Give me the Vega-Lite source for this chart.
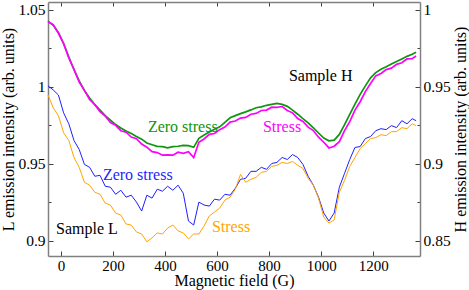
{
  "$schema": "https://vega.github.io/schema/vega-lite/v6.json",
  "width": 372,
  "height": 254,
  "autosize": {"type": "none"},
  "padding": {"left": 48, "top": 2, "right": 49, "bottom": 34},
  "background": "white",
  "config": {
    "view": {"stroke": null},
    "font": "Liberation Serif",
    "text": {"font": "Liberation Serif"},
    "axis": {
      "grid": false,
      "domainColor": "#808080",
      "domainWidth": 1.5,
      "tickColor": "#404040",
      "tickWidth": 1,
      "labelFont": "Liberation Serif",
      "labelFontSize": 15.5,
      "labelColor": "black",
      "titleFont": "Liberation Serif",
      "titleFontSize": 16,
      "titleFontWeight": "normal",
      "titleColor": "black"
    }
  },
  "datasets": {
    "L": [
      {"G": -50, "L_zero": 1.0005, "L_stress": 0.9946},
      {"G": -30, "L_zero": 0.9979, "L_stress": 0.9863},
      {"G": -10, "L_zero": 0.9946, "L_stress": 0.9811},
      {"G": 10, "L_zero": 0.9830, "L_stress": 0.9701},
      {"G": 30, "L_zero": 0.9759, "L_stress": 0.9650},
      {"G": 50, "L_zero": 0.9650, "L_stress": 0.9540},
      {"G": 70, "L_zero": 0.9592, "L_stress": 0.9476},
      {"G": 90, "L_zero": 0.9495, "L_stress": 0.9379},
      {"G": 110, "L_zero": 0.9476, "L_stress": 0.9360},
      {"G": 130, "L_zero": 0.9418, "L_stress": 0.9314},
      {"G": 150, "L_zero": 0.9424, "L_stress": 0.9301},
      {"G": 170, "L_zero": 0.9353, "L_stress": 0.9243},
      {"G": 190, "L_zero": 0.9347, "L_stress": 0.9231},
      {"G": 210, "L_zero": 0.9301, "L_stress": 0.9179},
      {"G": 230, "L_zero": 0.9327, "L_stress": 0.9166},
      {"G": 250, "L_zero": 0.9282, "L_stress": 0.9108},
      {"G": 270, "L_zero": 0.9295, "L_stress": 0.9101},
      {"G": 290, "L_zero": 0.9250, "L_stress": 0.9056},
      {"G": 310, "L_zero": 0.9192, "L_stress": 0.9043},
      {"G": 330, "L_zero": 0.9295, "L_stress": 0.8992},
      {"G": 350, "L_zero": 0.9276, "L_stress": 0.9018},
      {"G": 370, "L_zero": 0.9334, "L_stress": 0.9050},
      {"G": 390, "L_zero": 0.9321, "L_stress": 0.9043},
      {"G": 410, "L_zero": 0.9353, "L_stress": 0.9082},
      {"G": 430, "L_zero": 0.9327, "L_stress": 0.9101},
      {"G": 450, "L_zero": 0.9360, "L_stress": 0.9063},
      {"G": 470, "L_zero": 0.9308, "L_stress": 0.9050},
      {"G": 490, "L_zero": 0.9127, "L_stress": 0.9011},
      {"G": 510, "L_zero": 0.9101, "L_stress": 0.9043},
      {"G": 530, "L_zero": 0.9250, "L_stress": 0.9043},
      {"G": 550, "L_zero": 0.9231, "L_stress": 0.9095},
      {"G": 570, "L_zero": 0.9224, "L_stress": 0.9160},
      {"G": 590, "L_zero": 0.9269, "L_stress": 0.9185},
      {"G": 610, "L_zero": 0.9263, "L_stress": 0.9211},
      {"G": 630, "L_zero": 0.9301, "L_stress": 0.9263},
      {"G": 650, "L_zero": 0.9295, "L_stress": 0.9282},
      {"G": 670, "L_zero": 0.9340, "L_stress": 0.9334},
      {"G": 690, "L_zero": 0.9398, "L_stress": 0.9430},
      {"G": 710, "L_zero": 0.9405, "L_stress": 0.9379},
      {"G": 730, "L_zero": 0.9450, "L_stress": 0.9398},
      {"G": 750, "L_zero": 0.9450, "L_stress": 0.9411},
      {"G": 770, "L_zero": 0.9476, "L_stress": 0.9443},
      {"G": 790, "L_zero": 0.9463, "L_stress": 0.9450},
      {"G": 810, "L_zero": 0.9501, "L_stress": 0.9482},
      {"G": 830, "L_zero": 0.9508, "L_stress": 0.9489},
      {"G": 850, "L_zero": 0.9540, "L_stress": 0.9508},
      {"G": 870, "L_zero": 0.9527, "L_stress": 0.9501},
      {"G": 890, "L_zero": 0.9559, "L_stress": 0.9514},
      {"G": 910, "L_zero": 0.9540, "L_stress": 0.9489},
      {"G": 930, "L_zero": 0.9495, "L_stress": 0.9469},
      {"G": 950, "L_zero": 0.9418, "L_stress": 0.9405},
      {"G": 970, "L_zero": 0.9360, "L_stress": 0.9360},
      {"G": 990, "L_zero": 0.9282, "L_stress": 0.9276},
      {"G": 1010, "L_zero": 0.9179, "L_stress": 0.9153},
      {"G": 1030, "L_zero": 0.9127, "L_stress": 0.9114},
      {"G": 1050, "L_zero": 0.9179, "L_stress": 0.9134},
      {"G": 1070, "L_zero": 0.9347, "L_stress": 0.9314},
      {"G": 1090, "L_zero": 0.9437, "L_stress": 0.9392},
      {"G": 1110, "L_zero": 0.9527, "L_stress": 0.9482},
      {"G": 1130, "L_zero": 0.9605, "L_stress": 0.9540},
      {"G": 1150, "L_zero": 0.9611, "L_stress": 0.9598},
      {"G": 1170, "L_zero": 0.9663, "L_stress": 0.9630},
      {"G": 1190, "L_zero": 0.9676, "L_stress": 0.9663},
      {"G": 1210, "L_zero": 0.9714, "L_stress": 0.9669},
      {"G": 1230, "L_zero": 0.9727, "L_stress": 0.9688},
      {"G": 1250, "L_zero": 0.9721, "L_stress": 0.9682},
      {"G": 1270, "L_zero": 0.9747, "L_stress": 0.9708},
      {"G": 1290, "L_zero": 0.9734, "L_stress": 0.9708},
      {"G": 1310, "L_zero": 0.9779, "L_stress": 0.9734},
      {"G": 1330, "L_zero": 0.9759, "L_stress": 0.9727},
      {"G": 1350, "L_zero": 0.9792, "L_stress": 0.9759},
      {"G": 1365, "L_zero": 0.9779, "L_stress": 0.9747}
    ],
    "H": [
      {"G": -50, "H_zero": 0.9926, "H_stress": 0.9922},
      {"G": -30, "H_zero": 0.9899, "H_stress": 0.9903},
      {"G": -10, "H_zero": 0.9852, "H_stress": 0.9847},
      {"G": 10, "H_zero": 0.9779, "H_stress": 0.9781},
      {"G": 30, "H_zero": 0.9693, "H_stress": 0.9686},
      {"G": 50, "H_zero": 0.9610, "H_stress": 0.9612},
      {"G": 70, "H_zero": 0.9537, "H_stress": 0.9529},
      {"G": 90, "H_zero": 0.9474, "H_stress": 0.9476},
      {"G": 110, "H_zero": 0.9426, "H_stress": 0.9416},
      {"G": 130, "H_zero": 0.9383, "H_stress": 0.9383},
      {"G": 150, "H_zero": 0.9348, "H_stress": 0.9337},
      {"G": 170, "H_zero": 0.9312, "H_stress": 0.9309},
      {"G": 190, "H_zero": 0.9283, "H_stress": 0.9267},
      {"G": 210, "H_zero": 0.9254, "H_stress": 0.9249},
      {"G": 230, "H_zero": 0.9232, "H_stress": 0.9214},
      {"G": 250, "H_zero": 0.9212, "H_stress": 0.9204},
      {"G": 270, "H_zero": 0.9196, "H_stress": 0.9173},
      {"G": 290, "H_zero": 0.9177, "H_stress": 0.9162},
      {"G": 310, "H_zero": 0.9159, "H_stress": 0.9127},
      {"G": 330, "H_zero": 0.9134, "H_stress": 0.9107},
      {"G": 350, "H_zero": 0.9123, "H_stress": 0.9078},
      {"G": 370, "H_zero": 0.9112, "H_stress": 0.9072},
      {"G": 390, "H_zero": 0.9110, "H_stress": 0.9055},
      {"G": 410, "H_zero": 0.9103, "H_stress": 0.9057},
      {"G": 430, "H_zero": 0.9110, "H_stress": 0.9055},
      {"G": 450, "H_zero": 0.9113, "H_stress": 0.9074},
      {"G": 470, "H_zero": 0.9119, "H_stress": 0.9067},
      {"G": 490, "H_zero": 0.9117, "H_stress": 0.9078},
      {"G": 510, "H_zero": 0.9106, "H_stress": 0.9040},
      {"G": 530, "H_zero": 0.9165, "H_stress": 0.9139},
      {"G": 550, "H_zero": 0.9186, "H_stress": 0.9160},
      {"G": 570, "H_zero": 0.9205, "H_stress": 0.9190},
      {"G": 590, "H_zero": 0.9223, "H_stress": 0.9196},
      {"G": 610, "H_zero": 0.9239, "H_stress": 0.9221},
      {"G": 630, "H_zero": 0.9268, "H_stress": 0.9238},
      {"G": 650, "H_zero": 0.9298, "H_stress": 0.9270},
      {"G": 670, "H_zero": 0.9312, "H_stress": 0.9277},
      {"G": 690, "H_zero": 0.9325, "H_stress": 0.9296},
      {"G": 710, "H_zero": 0.9336, "H_stress": 0.9300},
      {"G": 730, "H_zero": 0.9349, "H_stress": 0.9321},
      {"G": 750, "H_zero": 0.9363, "H_stress": 0.9326},
      {"G": 770, "H_zero": 0.9369, "H_stress": 0.9345},
      {"G": 790, "H_zero": 0.9379, "H_stress": 0.9348},
      {"G": 810, "H_zero": 0.9385, "H_stress": 0.9367},
      {"G": 830, "H_zero": 0.9391, "H_stress": 0.9366},
      {"G": 850, "H_zero": 0.9385, "H_stress": 0.9371},
      {"G": 870, "H_zero": 0.9372, "H_stress": 0.9345},
      {"G": 890, "H_zero": 0.9348, "H_stress": 0.9330},
      {"G": 910, "H_zero": 0.9321, "H_stress": 0.9293},
      {"G": 930, "H_zero": 0.9292, "H_stress": 0.9274},
      {"G": 950, "H_zero": 0.9265, "H_stress": 0.9237},
      {"G": 970, "H_zero": 0.9233, "H_stress": 0.9215},
      {"G": 990, "H_zero": 0.9199, "H_stress": 0.9172},
      {"G": 1010, "H_zero": 0.9166, "H_stress": 0.9139},
      {"G": 1030, "H_zero": 0.9148, "H_stress": 0.9102},
      {"G": 1050, "H_zero": 0.9153, "H_stress": 0.9113},
      {"G": 1070, "H_zero": 0.9190, "H_stress": 0.9143},
      {"G": 1090, "H_zero": 0.9253, "H_stress": 0.9214},
      {"G": 1110, "H_zero": 0.9320, "H_stress": 0.9273},
      {"G": 1130, "H_zero": 0.9387, "H_stress": 0.9348},
      {"G": 1150, "H_zero": 0.9450, "H_stress": 0.9402},
      {"G": 1170, "H_zero": 0.9505, "H_stress": 0.9468},
      {"G": 1190, "H_zero": 0.9557, "H_stress": 0.9520},
      {"G": 1210, "H_zero": 0.9591, "H_stress": 0.9570},
      {"G": 1230, "H_zero": 0.9613, "H_stress": 0.9586},
      {"G": 1250, "H_zero": 0.9629, "H_stress": 0.9611},
      {"G": 1270, "H_zero": 0.9647, "H_stress": 0.9620},
      {"G": 1290, "H_zero": 0.9663, "H_stress": 0.9645},
      {"G": 1310, "H_zero": 0.9680, "H_stress": 0.9655},
      {"G": 1330, "H_zero": 0.9697, "H_stress": 0.9680},
      {"G": 1350, "H_zero": 0.9711, "H_stress": 0.9682},
      {"G": 1365, "H_zero": 0.9724, "H_stress": 0.9699}
    ]
  },
  "resolve": {"scale": {"y": "independent"}, "axis": {"x": "independent", "y": "independent"}},
  "layer": [
    {
      "layer": [
        {
          "data": {"name": "L"},
          "transform": [{"fold": ["L_zero", "L_stress"], "as": ["series", "value"]}],
          "mark": {"type": "line", "strokeWidth": 1},
          "encoding": {
            "x": {
              "field": "G", "type": "quantitative",
              "scale": {"domain": [-50, 1380], "nice": false, "zero": false},
              "axis": {
                "orient": "bottom",
                "values": [0, 100, 200, 300, 400, 500, 600, 700, 800, 900, 1000, 1100, 1200, 1300],
                "format": "d",
                "labelExpr": "datum.value % 200 === 0 ? datum.label : ''",
                "tickSize": {"condition": {"test": "datum.value % 200 === 0", "value": -5}, "value": -3},
                "labelPadding": 7,
                "labelFontSize": 15,
                "labelFont": "Liberation Serif",
                "title": "Magnetic field (G)",
                "titleFont": "Liberation Serif",
                "titleY": 29.5,
                "titleBaseline": "alphabetic"
              }
            },
            "y": {
              "field": "value", "type": "quantitative",
              "scale": {"domain": [0.89, 1.055], "nice": false, "zero": false},
              "axis": {
                "orient": "left",
                "values": [0.9, 0.925, 0.95, 0.975, 1, 1.025, 1.05],
                "labelExpr": "abs(datum.value*20 - round(datum.value*20)) < 0.01 ? format(datum.value, '~g') : ''",
                "tickSize": {"condition": {"test": "abs(datum.value*20 - round(datum.value*20)) < 0.01", "value": -5}, "value": -3},
                "labelPadding": 8,
                "labelFont": "Liberation Serif",
                "title": "L emission intensity (arb. units)",
                "titleFont": "Liberation Serif",
                "titleAngle": -90,
                "titleX": -35,
                "titleY": 127,
                "titleBaseline": "alphabetic",
                "titleAlign": "center"
              }
            },
            "color": {
              "field": "series", "type": "nominal",
              "scale": {"domain": ["L_zero", "L_stress", "H_zero", "H_stress"], "range": ["#1f1fff", "#ffa500", "#0e960e", "#ff00ff"]},
              "legend": null
            }
          }
        },
        {
          "data": {"values": [{}]},
          "mark": {"type": "text", "text": "Zero stress", "color": "#1f1fff", "align": "left", "baseline": "alphabetic", "fontSize": 16, "font": "Liberation Serif"},
          "encoding": {"x": {"datum": 161, "type": "quantitative"}, "y": {"datum": 0.9395, "type": "quantitative"}}
        },
        {
          "data": {"values": [{}]},
          "mark": {"type": "text", "text": "Stress", "color": "#ffa500", "align": "left", "baseline": "alphabetic", "fontSize": 16, "font": "Liberation Serif"},
          "encoding": {"x": {"datum": 580, "type": "quantitative"}, "y": {"datum": 0.9055, "type": "quantitative"}}
        },
        {
          "data": {"values": [{}]},
          "mark": {"type": "text", "text": "Sample L", "color": "black", "align": "left", "baseline": "alphabetic", "fontSize": 16, "font": "Liberation Serif"},
          "encoding": {"x": {"datum": -19, "type": "quantitative"}, "y": {"datum": 0.9043, "type": "quantitative"}}
        }
      ]
    },
    {
      "layer": [
        {
          "data": {"name": "H"},
          "transform": [{"fold": ["H_zero", "H_stress"], "as": ["series", "value"]}],
          "mark": {"type": "line", "strokeWidth": 1.7},
          "encoding": {
            "x": {
              "field": "G", "type": "quantitative",
              "scale": {"domain": [-50, 1380], "nice": false, "zero": false},
              "axis": {
                "orient": "top",
                "values": [0, 100, 200, 300, 400, 500, 600, 700, 800, 900, 1000, 1100, 1200, 1300],
                "labels": false,
                "tickSize": -4,
                "title": null
              }
            },
            "y": {
              "field": "value", "type": "quantitative",
              "scale": {"domain": [0.84, 1.005], "nice": false, "zero": false},
              "axis": {
                "orient": "right",
                "values": [0.85, 0.875, 0.9, 0.925, 0.95, 0.975, 1],
                "labelExpr": "abs(datum.value*20 - round(datum.value*20)) < 0.01 ? format(datum.value, '~g') : ''",
                "tickSize": {"condition": {"test": "abs(datum.value*20 - round(datum.value*20)) < 0.01", "value": -5}, "value": -3},
                "labelPadding": 8,
                "labelFont": "Liberation Serif",
                "title": "H emission intensity (arb. units)",
                "titleFont": "Liberation Serif",
                "titleAngle": -90,
                "titleX": 45,
                "titleY": 127,
                "titleBaseline": "alphabetic",
                "titleAlign": "center"
              }
            },
            "color": {
              "field": "series", "type": "nominal",
              "scale": {"domain": ["L_zero", "L_stress", "H_zero", "H_stress"], "range": ["#1f1fff", "#ffa500", "#0e960e", "#ff00ff"]},
              "legend": null
            }
          }
        },
        {
          "data": {"values": [{}]},
          "mark": {"type": "text", "text": "Zero stress", "color": "#0e960e", "align": "left", "baseline": "alphabetic", "fontSize": 16, "font": "Liberation Serif"},
          "encoding": {"x": {"datum": 334, "type": "quantitative"}, "y": {"datum": 0.9206, "type": "quantitative"}}
        },
        {
          "data": {"values": [{}]},
          "mark": {"type": "text", "text": "Stress", "color": "#ff00ff", "align": "left", "baseline": "alphabetic", "fontSize": 16, "font": "Liberation Serif"},
          "encoding": {"x": {"datum": 776, "type": "quantitative"}, "y": {"datum": 0.9206, "type": "quantitative"}}
        },
        {
          "data": {"values": [{}]},
          "mark": {"type": "text", "text": "Sample H", "color": "black", "align": "left", "baseline": "alphabetic", "fontSize": 16, "font": "Liberation Serif"},
          "encoding": {"x": {"datum": 876, "type": "quantitative"}, "y": {"datum": 0.9537, "type": "quantitative"}}
        }
      ]
    }
  ]
}
